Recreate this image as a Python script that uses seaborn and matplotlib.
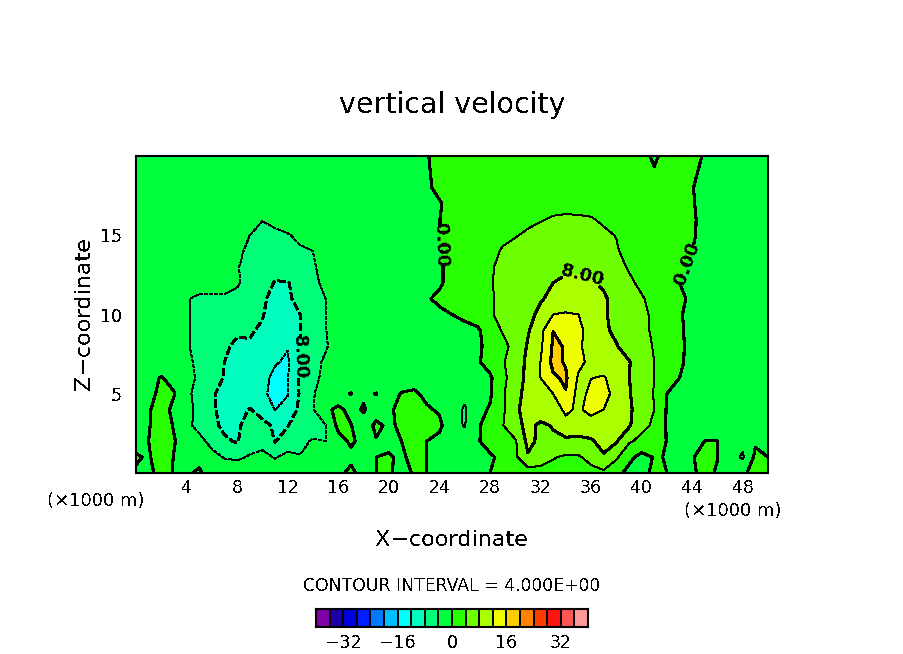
import numpy as np
import pandas as pd
import matplotlib
matplotlib.use("Agg")
import matplotlib.pyplot as plt
from matplotlib.colors import ListedColormap
import seaborn as sns

# vertical velocity, one list per height (km), x = 0..50 km
x_km = list(range(51))
z_km = [0, 1, 2, 3, 4, 5, 6, 7, 8, 9, 10, 11, 12, 13, 14, 15, 16, 17, 18, 20]

w_z00 = [-.3,-1,1.5,-.2,-1,1,-3,-2,-2,-2,
         -2,-2,-2,-2,-2,-2,-1,1,-1.5,0,
         .6,-1.5,.4,0,-1.5,-2,-2,-1.5,0,1.5,
         2.5,2,2,3,3,3,3,3.2,1,-1,
         -1,.7,0,-1.5,-.5,1,-.4,-2,-.5,1,1]
w_z01 = [.3,-.3,1.5,-.1,-1.8,-2,-3,-4.2,-4.5,-3.7,
         -3.2,-4.2,-3,-3.9,-3.9,-2.5,-2,-1,-2,0,
         .4,-.7,1.2,0,-1.5,-2,-2,-1.5,-.6,1,
         3.2,7.6,6.5,4.2,3.5,3.6,5,7.5,4.6,.9,
         -1.2,.2,-.1,-1.5,-.2,1,.1,-2.5,-4.5,.8,0]
w_z02 = [-1,0,1.8,.2,-1.5,-3,-5,-7.5,-8.3,-5.5,
         -5,-8.2,-6,-4.5,-3.8,-4,-1.5,.6,-1.2,-.2,
         -1,0,1.5,0,-1.2,-2,-2,-.4,1.5,2.5,
         3.5,9,7.2,7.5,7,6.8,7.5,9.5,8.3,4.5,
         3,1.5,-.1,-1.5,-1.2,.05,.05,-1.5,-3,-.5,-1.5]
w_z03 = [-2,-.2,1.5,-.2,-3.2,-5,-7.2,-8.7,-8.4,-7,
         -7,-8.5,-8.2,-5,-5,-4.1,1,.1,-1.5,.6,
         -.5,.5,1.6,1.3,.9,-3,-4.2,-.5,1.5,3.8,
         7,8.8,7.5,8.2,11,10.5,10.5,10,9.5,8.5,
         5,3.4,-.3,-1.8,-2,-2,-2,-2,-2,-2,-2]
w_z04 = [-2,-.3,1.4,-.8,-3.3,-4.6,-7.5,-9,-9.3,-7.8,
         -9.5,-12.1,-10,-7.3,-4.2,-.8,.8,-1,.3,-1.5,
         -.6,1,1.2,.5,-.5,-2,-4.5,-1,.3,3.2,
         7.5,9,9.5,10.5,12.6,11.5,13,12,10,8.5,
         6.5,4,-.3,-1.7,-2,-2,-2,-2,-2,-2,-2]
w_z05 = [-2,-1.2,1,.2,-3.5,-4.8,-7.4,-9.5,-10,-10,
         -11.4,-13,-12.3,-7.5,-4.2,-2.7,-2.5,-4.3,-.5,.1,
         -1.5,.2,.7,-1,-2,-2,-3,-2,-.5,3.4,
         7,9,11,12,15.8,10.5,13,13,11,8.3,
         6,3.8,0,-1.5,-2,-2,-2,-2,-2,-2,-2]
w_z06 = [-2,-1,.2,-1,-3,-4.5,-6,-8.3,-9.5,-10,
         -11,-12.8,-12.2,-7.5,-4.5,-3.5,-2.3,-2,-2,-2,
         -2,-2,-2,-2,-2,-2,-2,-2,-.6,3,
         6,9,12,15.5,16.5,11.5,11.9,12.4,10,8.1,
         6,4,2,0,-1,-2,-2,-2,-2,-2,-2]
w_z07 = [-2,-2,-2,-2.5,-3.5,-4.5,-6,-8,-9,-9.5,
         -10,-11.7,-12.5,-7.8,-5,-3.5,-2.3,-2,-2,-2,
         -2,-2,-2,-2,-2,-2,-2,-.5,1.5,3.5,
         6.5,8.6,12,17,15.7,13,11,9.7,9,8.2,
         6,4,2.2,.5,-1,-2,-2,-2,-2,-2,-2]
w_z08 = [-2,-2,-2,-2.6,-3.8,-4.6,-5.5,-7.6,-8.5,-8.3,
         -9.5,-11.7,-11.8,-8,-5.7,-4.3,-2.6,-2,-2,-2,
         -2,-2,-2,-2,-2,-2,-2,-.8,1.3,3.1,
         5,8.4,11.3,16.5,15.8,12.6,10.5,9,8.2,6.5,
         5,3.8,2.3,.6,-1,-2,-2,-2,-2,-2,-2]
w_z09 = [-2,-2,-2,-2.6,-3.8,-4.6,-5,-6,-7.6,-7.7,
         -8.4,-10.5,-10.5,-8,-5.5,-4.1,-2.5,-2,-2,-2,
         -2,-2,-2,-2,-2,-2,-2,-.8,2.5,4.2,
         6,7.6,10.8,15.95,15.95,13,10.5,8.6,7.3,6,
         4.8,3.5,2,.5,-1,-2,-2,-2,-2,-2,-2]
w_z10 = [-2,-2,-2,-2.5,-3.8,-4.6,-4.8,-5,-5.5,-6.5,
         -7.8,-9.5,-9.8,-8,-5.5,-4.1,-2.5,-2,-2,-2,
         -2,-2,-2,-2,-1,0,1.5,2.5,3.6,5,
         6,7,8.8,12,12.4,12,10.5,8.4,7,6,
         4.6,3.5,2,.3,-1,-2,-2,-2,-2,-2,-2]
w_z11 = [-2,-2,-2,-2.5,-3.8,-4.6,-4.6,-4.6,-4.7,-5.5,
         -7.6,-8.8,-8.5,-7,-5.5,-4,-2.5,-2,-2,-2,
         -2,-2,-2,-.5,1,2,2,2.5,3.5,5,
         5.7,6.5,7.7,8.8,9.5,9.6,9.3,8.4,7,5.8,
         4.3,3,1.8,.5,-.5,-2,-2,-2,-2,-2,-2]
w_z12 = [-2,-2,-2,-2,-2,-2.5,-2.5,-2.5,-3.7,-5,
         -6.5,-8.2,-8.2,-6.5,-4.8,-3.2,-2,-2,-2,-2,
         -2,-2,-2,-2,-.8,2,2,2.5,3.7,5,
         5.7,6.5,7.4,8,8.5,8.6,8.3,7.6,6.5,4.6,
         3.3,2.5,1.5,0,-2,-2,-2,-2,-2,-2,-2]
w_z13 = [-2,-2,-2,-2,-2,-2,-2,-2,-3.8,-5,
         -6,-6.5,-6.3,-5.5,-4.3,-3,-2,-2,-2,-2,
         -2,-2,-2,-2,-.8,2,2,2.5,3.5,5,
         5.7,6.2,6.8,7.2,7.5,7.5,7.2,6.5,5,3.7,
         3,2.5,2,.8,-.8,-2,-2,-2,-2,-2,-2]
w_z14 = [-2,-2,-2,-2,-2,-2,-2,-2,-3.5,-4.5,
         -5.5,-5.5,-5.2,-4.6,-4,-2.5,-2,-2,-2,-2,
         -2,-2,-2,-2,-.5,2,2,2.5,3,4.3,
         5,5.5,6,6.2,6.2,6,5.6,5,4.3,3,
         2.5,2,2,1.5,0,-2,-2,-2,-2,-2,-2]
w_z15 = [-2,-2,-2,-2,-2,-2,-2,-2,-3,-4,
         -4.8,-4.8,-4.3,-3,-2,-2,-2,-2,-2,-2,
         -2,-2,-2,-2,-.1,2,2,2.5,3,3.3,
         3.8,4.5,5,5.2,5.4,5.3,5,4.5,3.9,3,
         2.5,2,2,2,.8,-2,-2,-2,-2,-2,-2]
w_z16 = [-2,-2,-2,-2,-2,-2,-2,-2,-2,-3,
         -3.9,-3,-2,-2,-2,-2,-2,-2,-2,-2,
         -2,-2,-2,-2,-.1,2,2,2,2,2.5,
         3,3.3,3.8,4.3,4.5,4.4,4.2,3.6,3,2.7,
         2,2,2,2,.9,-2,-2,-2,-2,-2,-2]
w_z17 = [-2,-2,-2,-2,-2,-2,-2,-2,-2,-2,
         -2,-2,-2,-2,-2,-2,-2,-2,-2,-2,
         -2,-2,-2,-2,-.6,2.4,2,2,2,2,
         2.5,3,3,3,3,3,3,3,2.5,2.5,
         2,2,2,2,.6,-2.4,-2,-2,-2,-2,-2]
w_z18 = [-2,-2,-2,-2,-2,-2,-2,-2,-2,-2,
         -2,-2,-2,-2,-2,-2,-2,-2,-2,-2,
         -2,-2,-2,-1.2,1.8,2,2,2,2,2,
         2.5,2.5,2.5,2.5,2.5,2.5,2.5,2.5,2.5,2.5,
         2,2,2,2,.3,-2.5,-2,-2,-2,-2,-2]
w_z20 = [-2,-2,-2,-2,-2,-2,-2,-2,-2,-2,
         -2,-2,-2,-2,-2,-2,-2,-2,-2,-2,
         -2,-2,-2,-.4,2,2,2,2,2,2,
         2,2,2,2,2,2,2,2,2,2,
         2,-1,2,2,1,-.3,-2,-2,-2,-2,-2]

band_colors = ["#8200aa", "#1e00aa", "#0000dc", "#001eff", "#0078ff",
               "#00beff", "#00ffff", "#00ffbe", "#00ff78", "#00ff3c",
               "#28ff00", "#6eff00", "#aaff00", "#f0ff00", "#ffcd00",
               "#ff8200", "#ff3c00", "#ff1414", "#ff5555", "#ff9b9b"]
band_mids = [-38, -34, -30, -26, -22, -18, -14, -10, -6, -2,
             2, 6, 10, 14, 18, 22, 26, 30, 34, 38]
bar_ticks = [-32, -16, 0, 16, 32]
x_major = [4, 8, 12, 16, 20, 24, 28, 32, 36, 40, 44, 48]
z_major = [5, 10, 15]

w = pd.DataFrame([w_z00, w_z01, w_z02, w_z03, w_z04, w_z05, w_z06, w_z07, w_z08, w_z09,
                  w_z10, w_z11, w_z12, w_z13, w_z14, w_z15, w_z16, w_z17, w_z18, w_z20],
                 index=z_km, columns=x_km)

sns.set_style("white")
plt.rcParams["font.family"] = ["DejaVu Sans"]
plt.rcParams["text.antialiased"] = False
plt.rcParams["text.color"] = "k"
plt.rcParams["xtick.color"] = "k"
plt.rcParams["ytick.color"] = "k"
plt.rcParams["xtick.direction"] = "in"
plt.rcParams["ytick.direction"] = "in"

W, H = 904, 654
fig = plt.figure(figsize=(W / 100, H / 100), dpi=100)
cmap = ListedColormap(band_colors)

ax = fig.add_axes([136 / W, 1 - 473 / H, 632 / W, 317 / H])
levels = np.arange(-40, 44, 4)
ax.contourf(w.columns, w.index, w.values, levels=levels, cmap=cmap, antialiased=False)

# thin lines on odd multiples of the interval, thick on even ones, negative dashed
ax.contour(w.columns, w.index, w.values, levels=[-12, -4, 4, 12], colors="k", linewidths=0.7,
           linestyles=["--", "--", "-", "-"], antialiased=False)
thick = ax.contour(w.columns, w.index, w.values, levels=[-8, 0, 8, 16], colors="k", linewidths=1.5,
                   linestyles=["--", "-", "-", "-"], antialiased=False)
labels = ax.clabel(thick, levels=[-8, 0, 8], fmt=lambda v: "%.2f" % abs(v), fontsize=13, inline=True,
                   inline_spacing=1, manual=[(12.9, 7.3), (24.1, 14.4), (43.3, 13.3), (35.1, 12.0)])
for t in labels:
    t.set_fontweight("bold")
    # the labels on the steep parts read downwards in the original
    if 75 < t.get_rotation() % 180 < 105:
        t.set_rotation(-88)

ax.set_xlim(0, 50)
ax.set_ylim(0, 20)
ax.set_xticks(x_major)
ax.set_xticks(range(2, 50, 2), minor=True)
ax.set_yticks(z_major)
ax.set_yticks(range(1, 20), minor=True)
ax.tick_params(which="major", length=7, width=1.5, top=True, right=True, bottom=True, left=True,
               labelsize=12.5)
ax.tick_params(axis="x", which="major", pad=4)
ax.tick_params(axis="y", which="major", pad=10)
ax.tick_params(which="minor", length=3.6, width=1, top=True, right=True, bottom=True, left=True)
for s in ax.spines.values():
    s.set_linewidth(1.5)
    s.set_color("k")


def put(x, y, s, **kw):
    fig.text(x / W, 1 - y / H, s, ha="center", va="center", **kw)


put(452, 105, "vertical velocity", fontsize=20.5)
put(452, 540, "X\u2212coordinate", fontsize=16)
put(84, 314, "Z\u2212coordinate", fontsize=16, rotation=90)
put(96, 501, "(\u00d71000 m)", fontsize=13)
put(733, 511, "(\u00d71000 m)", fontsize=13)
put(452, 586, "CONTOUR INTERVAL = 4.000E+00", fontsize=12.4)

cax = fig.add_axes([316 / W, 1 - 627 / H, 272 / W, 18 / H])
sns.heatmap(np.array([band_mids]), ax=cax, cmap=cmap, vmin=-40, vmax=40, cbar=False,
            linewidths=1.2, linecolor="k", square=False)
cax.set_xticks([(t + 40) / 4 for t in bar_ticks])
cax.set_xticklabels([str(t).replace("-", "\u2212") for t in bar_ticks], rotation=0, fontsize=12.5)
cax.set_yticks([])
cax.tick_params(axis="x", length=0, pad=5)
for s in cax.spines.values():
    s.set_visible(True)
    s.set_linewidth(1.5)
    s.set_color("k")

fig.savefig("out.png", dpi=100)
